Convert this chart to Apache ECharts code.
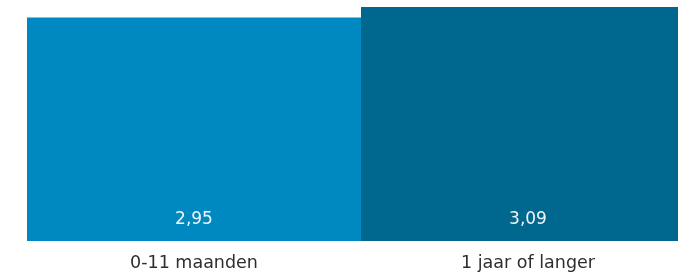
<!DOCTYPE html>
<html>
<head>
<meta charset="utf-8">
<script src="https://cdn.jsdelivr.net/npm/echarts@6/dist/echarts.min.js"></script>
<style>
  html, body { margin: 0; padding: 0; background: #fff; overflow: hidden; }
  #main { width: 695px; height: 273px; }
</style>
</head>
<body>
<div id="main"></div>
<script>
var categories = ["0-11 maanden", "1 jaar of langer"];
var values = [2.95, 3.09];
var barColors = ["#0088c1", "#00688f"];

// chart is a bit wider than the window; the right edge of the last bar is cut off
var myChart = echarts.init(document.getElementById('main'));

var option = {
    animation: false,
    grid: { left: 27, top: 0, bottom: 32, right: 0 },
    xAxis: {
        type: 'category',
        data: categories,
        axisLine: { show: false },
        axisTick: { show: false },
        axisLabel: {
            color: '#2e2e2e',
            fontFamily: 'DejaVu Sans',
            fontWeight: 'normal',
            fontSize: 17.5,
            margin: 13
        }
    },
    yAxis: {
        type: 'value',
        min: 0,
        max: 3.182,
        show: false
    },
    series: [{
        type: 'bar',
        barWidth: '100%',
        data: values.map(function (v, i) {
            return { value: v, itemStyle: { color: barColors[i] } };
        }),
        label: {
            show: true,
            position: 'insideBottom',
            distance: 13,
            color: '#eef6fa',
            fontFamily: 'DejaVu Sans',
            fontWeight: 'normal',
            fontSize: 17,
            formatter: function (p) { return p.value.toFixed(2).replace('.', ','); }
        }
    }]
};
myChart.setOption(option);
</script>
</body>
</html>
